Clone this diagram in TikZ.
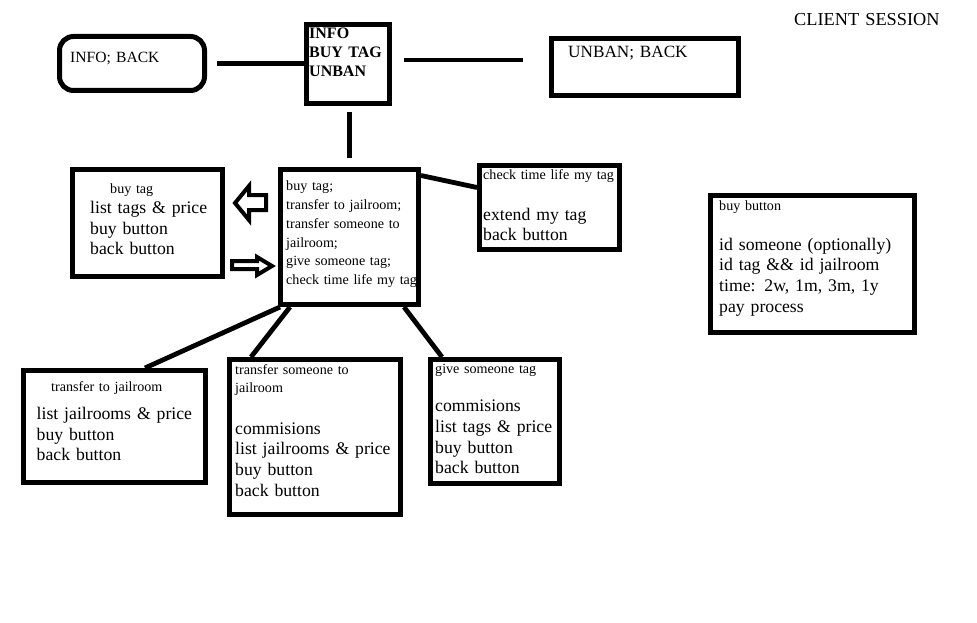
\documentclass[tikz,border=0pt]{standalone}
\usepackage{fontspec}
\setmainfont{Liberation Serif}
\usetikzlibrary{calc,positioning}
\tikzset{
  scr/.style={rectangle, draw=black, line width=5pt, inner sep=0pt},
  rscr/.style={scr, rounded corners=14pt},
  wire/.style={draw, line width=4.8pt},
  hollow/.style={draw, line width=4pt, line join=miter},
  big/.style={anchor=base west, inner sep=0pt, text width=230pt, align=left, font=\fontsize{17.7}{20.7}\selectfont},
  small/.style={anchor=base west, inner sep=0pt, text width=230pt, align=left, font=\fontsize{14.1}{18.8}\selectfont},
  bold/.style={anchor=base west, inner sep=0pt, text width=80pt, align=left, font=\fontsize{16}{19}\selectfont\bfseries},
}
\begin{document}
\begin{tikzpicture}[x=1pt, y=-1pt]
  \useasboundingbox (0,0) rectangle (977,623);

  % screens
  \node[rscr, minimum width=145pt, minimum height=54pt] (infoback) at (132,63.5) {};
  \node[scr, minimum width=83pt, minimum height=79pt] (mainmenu) at (348,64) {};
  \node[scr, minimum width=187pt, minimum height=57pt] (unbanback) at (645,67) {};
  \node[scr, minimum width=138pt, minimum height=135pt] (buymenu) at (349.5,237) {};
  \node[scr, minimum width=140pt, minimum height=84pt] (checktime) at (549.5,207.5) {};
  \node[scr, minimum width=150pt, minimum height=107pt] (buytag) at (147.5,223) {};
  \node[scr, minimum width=204pt, minimum height=137pt] (buybutton) at (812.5,264) {};
  \node[scr, minimum width=182pt, minimum height=112pt] (tojail) at (114.5,426.5) {};
  \node[scr, minimum width=171pt, minimum height=155pt] (someonejail) at (315,437) {};
  \node[scr, minimum width=129pt, minimum height=124pt] (givetag) at (495,421.5) {};

  % texts
  \node[big, font=\fontsize{18.3}{20.7}\selectfont] (title) at (794,26) {CLIENT SESSION};
  \node[big, font=\fontsize{15.6}{19}\selectfont] (infobackT) at (70,63) {INFO; BACK};
  \node[bold] (mainmenuT) at (309,39) {INFO\\BUY TAG\\UNBAN};
  \node[big, font=\fontsize{17.2}{20}\selectfont] (unbanbackT) at (568,58) {UNBAN; BACK};
  \node[small] (buymenuT) at (286,190.7) {buy tag;\\transfer to jailroom;\\transfer someone to\\jailroom;\\give someone tag;\\check time life my tag};
  \node[small] (checktimeT) at (483,179.3) {check time life my tag};
  \node[big] (checktimeB) at (483,220) {extend my tag\\back button};
  \node[small] (buytagT) at (110,193.3) {buy tag};
  \node[big] (buytagB) at (90,213.3) {list tags \& price\\buy button\\back button};
  \node[small] (buybuttonT) at (719,210.7) {buy button};
  \node[big] (buybuttonB) at (719,250) {id someone (optionally)\\id tag \&\& id jailroom\\time: 2w, 1m, 3m, 1y\\pay process};
  \node[small] (tojailT) at (51,391.7) {transfer to jailroom};
  \node[big] (tojailB) at (36.5,419.3) {list jailrooms \& price\\buy button\\back button};
  \node[small] (someonejailT) at (235,374) {transfer someone to\\jailroom};
  \node[big] (someonejailB) at (235,434) {commisions\\list jailrooms \& price\\buy button\\back button};
  \node[small] (givetagT) at (435,373.3) {give someone tag};
  \node[big] (givetagB) at (435,411.7) {commisions\\list tags \& price\\buy button\\back button};

  % links
  \draw[wire, shorten <=10pt] (infoback.east) -- (mainmenu.west |- infoback.east);
  \draw[wire, shorten <=12pt, shorten >=26pt] ([yshift=4pt]mainmenu.east) -- ([yshift=7pt]unbanback.west);
  \draw[wire, shorten <=6.5pt, shorten >=9.5pt] (buymenu.north |- mainmenu.south) -- (buymenu.north);
  \draw[wire] ([yshift=-8.5pt]buymenu.north east) -- ([yshift=-24.5pt]checktime.north west);
  \draw[wire] ([xshift=2pt]buymenu.south west) -- ([xshift=30.5pt]tojail.north);
  \draw[wire] ([xshift=12pt]buymenu.south west) -- ([xshift=24pt]someonejail.north west);
  \draw[wire] ([xshift=-17pt]buymenu.south east) -- ([xshift=14pt]givetag.north west);

  % block arrows
  \draw[hollow] (235,203) -- (249,186) -- (249,195) -- (266,195) -- (266,210) -- (249,210) -- (249,220) -- cycle;
  \draw[hollow] (232,261) -- (257,261) -- (257,257) -- (272,266) -- (257,275) -- (257,269) -- (232,269) -- cycle;
\end{tikzpicture}
\end{document}
